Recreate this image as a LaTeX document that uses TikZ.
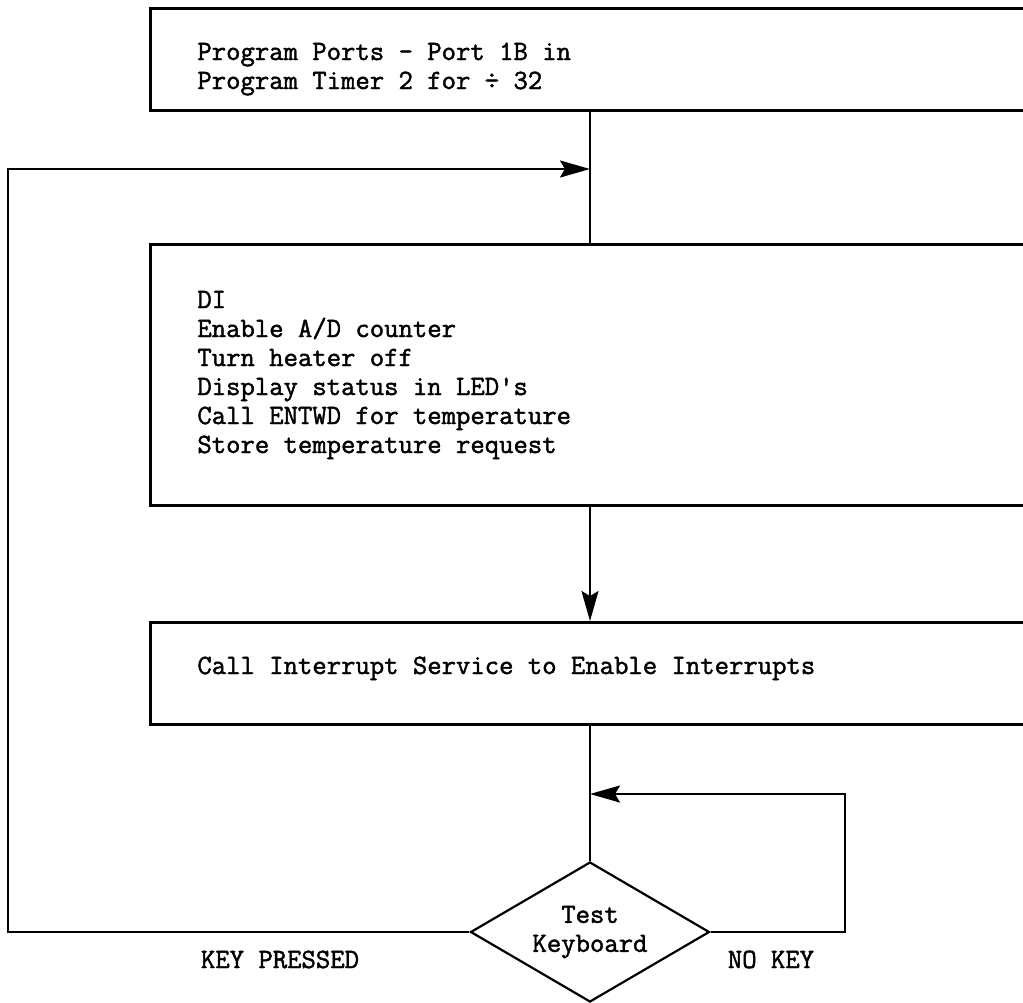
\documentclass[tikz,border=0pt]{standalone}
\usepackage{fontspec}
\setmonofont{Latin Modern Mono}[FakeBold=1.6]
\usetikzlibrary{arrows.meta,shapes.geometric}
\begin{document}
\begin{tikzpicture}[x=0.5pt,y=-0.5pt,
  prog/.style={draw, line width=1.3pt, rectangle, anchor=north west,
    inner sep=0pt, minimum width=440.5pt},
  txt/.style={font=\ttfamily\fontsize{13.95pt}{14.5pt}\selectfont,
    anchor=base west, inner sep=0pt},
  lbl/.style={font=\ttfamily\fontsize{13.95pt}{14.5pt}\selectfont,
    anchor=base, inner sep=0pt},
  flow/.style={line width=1pt},
  loop/.style={line width=1.3pt, line join=miter},
  tip/.style={-{Stealth[length=15pt,width=8.5pt,inset=2.5pt]}},
  decide/.style={draw, line width=1.1pt, shape=diamond, inner sep=0pt,
    shape aspect=1.7, minimum width=119.5pt, minimum height=70pt,
    align=center, font=\ttfamily\fontsize{13.95pt}{14.5pt}\selectfont},
  ]
\clip (0,0) rectangle (1023,1002);

% process boxes (open to the right, running off the page)
\node[prog, minimum height=51pt]   (box1) at (149,7)   {};
\node[prog, minimum height=130.5pt](box2) at (149,243) {};
\node[prog, minimum height=51pt]   (box3) at (149,621) {};

% box texts
\node[txt] (t1) at (197,60) {\begin{tabular}[t]{@{}l@{}}
  Program Ports - Port 1B in\\
  Program Timer 2 for \char"00F7{} 32
\end{tabular}};
\node[txt] (t2) at (197,308) {\begin{tabular}[t]{@{}l@{}}
  DI\\
  Enable A/D counter\\
  Turn heater off\\
  Display status in LED's\\
  Call ENTWD for temperature\\
  Store temperature request
\end{tabular}};
\node[txt] (t3) at (197,674) {Call Interrupt Service to Enable Interrupts};

% decision
\node[decide] (dia) at (590,932) {Test\\Keyboard};

% join points on the main flow line
\coordinate (join1) at (590,169);
\coordinate (join2) at (590,794);
\coordinate (lft) at (8,932);
\coordinate (rgt) at (845,932);

% main flow
\draw[flow] (box1.south -| dia.north) -- (box2.north -| dia.north);
\draw[flow, tip] (box2.south -| dia.north) -- (box3.north -| dia.north);
\draw[flow] (box3.south -| dia.north) -- (dia.north);

% KEY PRESSED: back to the top
\draw[loop, tip] (dia.west) -- (lft) |- (join1);
% NO KEY: test again
\draw[loop, tip] (dia.east) -- (rgt) |- (join2);

% branch labels
\node[lbl] (kp) at (280,968) {KEY PRESSED};
\node[lbl] (nk) at (771,968) {NO KEY};
\end{tikzpicture}
\end{document}
